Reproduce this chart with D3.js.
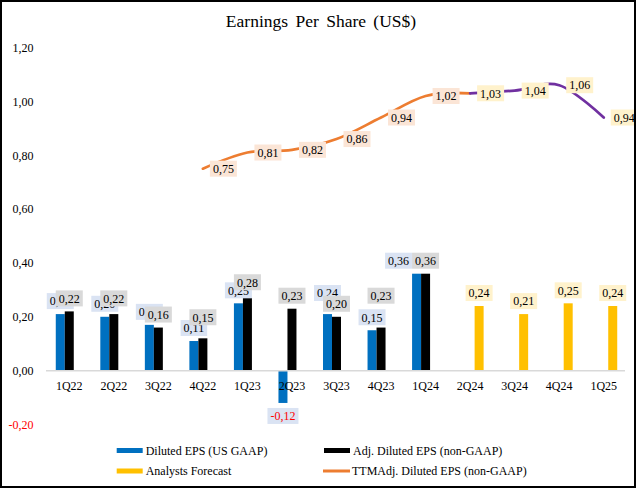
<!DOCTYPE html>
<html>
<head>
<meta charset="utf-8">
<script src="https://cdn.jsdelivr.net/npm/d3@7"></script>
<style>
  html, body { margin: 0; padding: 0; background: #fff; }
  svg { display: block; font-family: "Liberation Serif", "Times New Roman", serif; }
</style>
</head>
<body>
<svg id="chart" width="640" height="488"></svg>
<script>
// ---------------- DATA ----------------
const categories = ["1Q22","2Q22","3Q22","4Q22","1Q23","2Q23","3Q23","4Q23","1Q24","2Q24","3Q24","4Q24","1Q25"];
const gaapEPS      = [0.21, 0.20, 0.17, 0.11, 0.25, -0.12, 0.21, 0.15, 0.36, null, null, null, null];
const gaapLabels   = [0.21, 0.20, 0.17, 0.11, 0.25, -0.12, 0.24, 0.15, 0.36, null, null, null, null];
const adjEPS       = [0.22, 0.21, 0.16, 0.12, 0.27, 0.23, 0.20, 0.16, 0.36, null, null, null, null];
const adjLabels    = [0.22, 0.22, 0.16, 0.15, 0.28, 0.23, 0.20, 0.23, 0.36, null, null, null, null];
const forecastEPS  = [null, null, null, null, null, null, null, null, null, 0.24, 0.21, 0.25, 0.24];
const ttmActual    = [null, null, null, 0.75, 0.81, 0.82, 0.86, 0.94, 1.02, 1.03, null, null, null];
const ttmForecast  = [null, null, null, null, null, null, null, null, null, 1.03, 1.04, 1.06, 0.94];
const yTicks = [-0.20, 0.00, 0.20, 0.40, 0.60, 0.80, 1.00, 1.20];
const title = "Earnings Per Share (US$)";
const legendItems = [
  {name: "Diluted EPS (US GAAP)", color: "#0070C0", type: "bar"},
  {name: "Adj. Diluted EPS (non-GAAP)", color: "#000000", type: "bar"},
  {name: "Analysts Forecast", color: "#FFC000", type: "bar"},
  {name: "TTMAdj. Diluted EPS (non-GAAP)", color: "#ED7D31", type: "line"}
];

// ---------------- SETUP ----------------
const locale = d3.formatLocale({decimal: ",", thousands: ".", grouping: [3], currency: ["", "$"], minus: "-"});
const fmt = locale.format(".2f");

const svg = d3.select("#chart");
const clip = svg.append("defs").append("clipPath").attr("id", "frameClip")
  .append("rect").attr("x", 0).attr("y", 0).attr("width", 636).attr("height", 488);
const root = svg.append("g").attr("clip-path", "url(#frameClip)");

const x = d3.scaleBand().domain(categories).range([47, 626]).paddingInner(0).paddingOuter(0);
const sub = d3.scaleBand().domain(["gaap", "adj", "fc"]).range([-13.5, 13.5]);
const y = d3.scaleLinear().domain([-0.2, 1.2]).range([424.5, 47.5]);
const cx = c => x(c) + x.bandwidth() / 2;

// Title
root.append("text")
  .attr("x", 321).attr("y", 27)
  .attr("text-anchor", "middle")
  .attr("font-size", 17.5)
  .attr("word-spacing", "3px")
  .attr("fill", "#000")
  .text(title);

// Y axis (labels only)
const yAxis = d3.axisLeft(y).tickValues(yTicks).tickFormat(fmt).tickSize(0).tickPadding(0);
const yg = root.append("g").attr("transform", "translate(33.5,0)").call(yAxis);
yg.select(".domain").remove();
yg.selectAll("text")
  .attr("font-family", "Liberation Serif, serif")
  .attr("font-size", 12)
  .attr("fill", d => d < 0 ? "#FF0000" : "#000");

// Bars
function drawBars(values, key, color) {
  root.append("g").selectAll("rect")
    .data(categories.map((c, i) => ({c, v: values[i]})).filter(d => d.v != null))
    .join("rect")
    .attr("x", d => cx(d.c) + sub(key))
    .attr("width", sub.bandwidth())
    .attr("y", d => y(Math.max(0, d.v)))
    .attr("height", d => Math.abs(y(d.v) - y(0)))
    .attr("fill", color);
}
drawBars(gaapEPS, "gaap", "#0070C0");
drawBars(adjEPS, "adj", "#000000");
drawBars(forecastEPS, "fc", "#FFC000");

// X axis
const xAxis = d3.axisBottom(x).tickSize(0).tickPadding(0);
const xg = root.append("g").attr("transform", `translate(0,${y(0)})`).call(xAxis);
xg.select(".domain").attr("stroke", "#D9D9D9").attr("stroke-width", 1.5).attr("d", "M46,0H625");
xg.selectAll("text")
  .attr("font-family", "Liberation Serif, serif")
  .attr("font-size", 12)
  .attr("fill", "#000")
  .attr("dy", null)
  .attr("y", 19.5);

// Label helper
function makeLabel(g, text, fill, textColor) {
  const lg = g.append("g");
  const t = lg.append("text").attr("font-size", 12).attr("fill", textColor).text(text);
  const w = t.node().getComputedTextLength() + 6;
  lg.insert("rect", "text").attr("width", w).attr("height", 16).attr("fill", fill);
  t.attr("x", 3).attr("y", 12.3);
  return {g: lg, w: w, h: 16};
}

// Bar labels
const barLabelLayer = root.append("g");
const boxes = {};
function barLabels(labels, key, fill) {
  labels.forEach((v, i) => {
    if (v == null) return;
    const c = categories[i];
    const lab = makeLabel(barLabelLayer, fmt(v), fill, v < 0 ? "#FF0000" : "#000");
    let left = cx(c) + sub(key) + sub.bandwidth() / 2 - lab.w / 2;
    const top = v >= 0 ? y(v) - 5 - lab.h : y(v) + 5;
    boxes[key + i] = {left, top, w: lab.w, lab};
    lab.g.attr("transform", `translate(${left},${top})`);
  });
}
barLabels(gaapLabels, "gaap", "#DAE3F3");
barLabels(adjLabels, "adj", "#D9D9D9");
barLabels(forecastEPS, "fc", "#FFF2CC");
// If the GAAP and adjusted labels sit at the same height, set GAAP label beside the adjusted one
categories.forEach((c, i) => {
  const a = boxes["gaap" + i], b = boxes["adj" + i];
  if (a && b && Math.abs(a.top - b.top) < 2) {
    a.left = b.left - a.w;
    a.lab.g.attr("transform", `translate(${a.left},${a.top})`);
  }
});

// TTM lines
const line = d3.line()
  .defined(d => d.v != null)
  .x(d => cx(d.c))
  .y(d => y(d.v))
  .curve(d3.curveCardinal.tension(0));
function drawLine(values, color) {
  const pts = categories.map((c, i) => ({c, v: values[i]})).filter(d => d.v != null);
  root.append("path").datum(pts)
    .attr("d", line)
    .attr("fill", "none")
    .attr("stroke", color)
    .attr("stroke-width", 2.75)
    .attr("stroke-linecap", "round");
}
drawLine(ttmActual, "#ED7D31");
drawLine(ttmForecast, "#7030A0");

const lineLabelLayer = root.append("g");
function lineLabels(values, fill, skip) {
  values.forEach((v, i) => {
    if (v == null || (skip && skip[i] != null)) return;
    const lab = makeLabel(lineLabelLayer, fmt(v), fill, "#000");
    lab.g.attr("transform", `translate(${cx(categories[i]) + 7},${y(v) - lab.h / 2})`);
  });
}
lineLabels(ttmActual, "#FBE5D6", ttmForecast);
lineLabels(ttmForecast, "#FFF2CC", null);

// Legend
const legendPos = [[116.7, 450.5], [324, 450.5], [116.7, 471], [323, 471]];
legendItems.forEach((it, i) => {
  const [lx, ly] = legendPos[i];
  const g = root.append("g").attr("transform", `translate(${lx},${ly})`);
  if (it.type === "bar") {
    g.append("rect").attr("x", 0).attr("y", -2.5).attr("width", 26).attr("height", 5).attr("fill", it.color);
  } else {
    g.append("line").attr("x1", 0).attr("x2", 27).attr("y1", 0).attr("y2", 0)
      .attr("stroke", it.color).attr("stroke-width", 3);
  }
  g.append("text").attr("x", it.type === "bar" ? 29 : 29).attr("y", 0).attr("dy", "0.35em")
    .attr("font-size", 12).attr("fill", "#000").text(it.name);
});

// Frame
svg.append("rect").attr("x", 1).attr("y", 1).attr("width", 634).attr("height", 486)
  .attr("fill", "none").attr("stroke", "#000").attr("stroke-width", 2);
</script>
</body>
</html>
